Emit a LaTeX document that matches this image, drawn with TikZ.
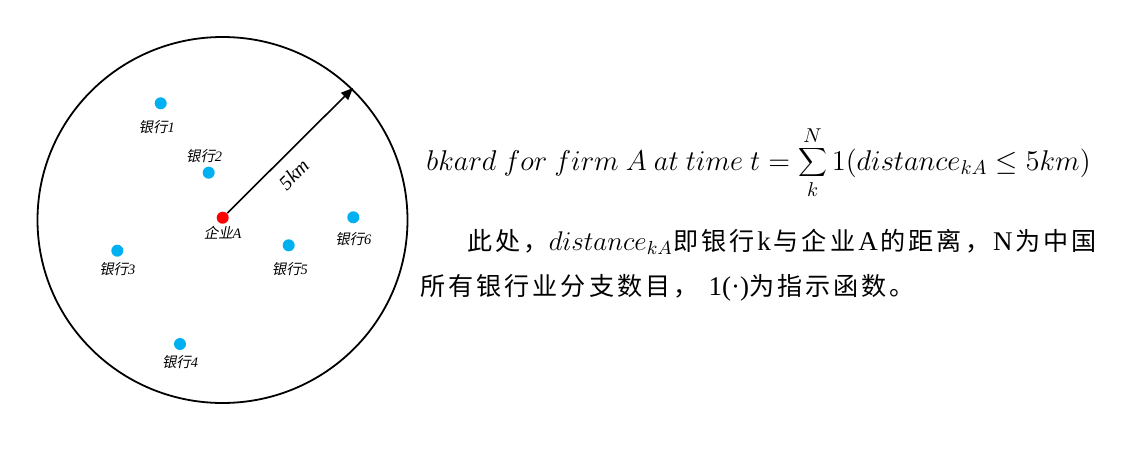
\RequirePackage{fix-cm}
\documentclass[tikz,border=0pt]{standalone}
\usepackage{fontspec}
\setmainfont{Liberation Serif}
\newfontfamily\cjk[Scale=0.93,LetterSpace=12]{Noto Sans CJK SC}
\newfontfamily\cjkit[FakeSlant=0.2]{Noto Sans CJK SC}
\usetikzlibrary{arrows.meta, positioning}
\definecolor{bankblue}{RGB}{0,176,240}
\definecolor{firmred}{RGB}{255,0,0}
\newcommand{\lat}[1]{\hspace{1.5pt}#1\hspace{1.5pt}}

\begin{document}
\begin{tikzpicture}[x=0.5pt, y=-0.5pt, bank/.style={circle, fill=bankblue, minimum size=6pt, inner sep=0pt}, firm/.style={circle, fill=firmred, minimum size=6pt, inner sep=0pt}, lbl/.style={inner sep=0pt, font=\fontsize{7.2}{8}\selectfont\itshape}, txt/.style={anchor=base west, inner sep=0pt, font=\fontsize{13.5}{16}\selectfont}]
    \useasboundingbox (0,0) rectangle (1135,465);

    % 5km circle
    \draw[line width=0.9pt] (222.5,220) ellipse [x radius=92.5pt, y radius=91.5pt];

    % Firm and banks
    \node[firm] (firmA) at (222.7,217.7) {};
    \node[bank] (b1) at (160.7,103.3) {};
    \node[bank] (b2) at (208.7,172.7) {};
    \node[bank] (b3) at (117.3,250.7) {};
    \node[bank] (b4) at (180,344) {};
    \node[bank] (b5) at (288.7,245.3) {};
    \node[bank] (b6) at (353.3,217.3) {};

    \node[lbl, below=1pt of firmA] (lA) {{\cjkit 企业}A};
    \node[lbl, below=5pt of b1, xshift=-2pt] (l1) {{\cjkit 银行}1};
    \node[lbl, above=1.4pt of b2, xshift=-2.3pt] (l2) {{\cjkit 银行}2};
    \node[lbl, below=2.5pt of b3] (l3) {{\cjkit 银行}3};
    \node[lbl, below=2.4pt of b4] (l4) {{\cjkit 银行}4};
    \node[lbl, below=5.2pt of b5, xshift=0.6pt] (l5) {{\cjkit 银行}5};
    \node[lbl, below=3.9pt of b6] (l6) {{\cjkit 银行}6};

    % Radius
    \coordinate (rim) at (353,88);
    \draw[-{Triangle[length=6pt, width=5pt]}, line width=0.8pt] (firmA) -- (rim) node[pos=0.42, sloped, below=2.5pt, font=\fontsize{10}{12}\selectfont\itshape] (rad) {5km};

    % Formula and note
    \node[txt, font=\fontsize{14.3}{17}\selectfont] (formula) at (426,170) {$\displaystyle bkard\ for\ firm\ A\ at\ time\ t=\sum_{k}^{N}1(distance_{kA}\le 5km)$};
    \node[txt] (line1) at (467,250) {{\cjk 此处，}$distance_{kA}${\cjk 即银行}\lat{k}{\cjk 与企业}\lat{A}{\cjk 的距离，}\lat{N}{\cjk 为中国}};
    \node[txt] (line2) at (420,295) {{\cjk 所有银行业分支数目，}\hspace{5pt}1(·){\cjk 为指示函数。}};
\end{tikzpicture}
\end{document}
